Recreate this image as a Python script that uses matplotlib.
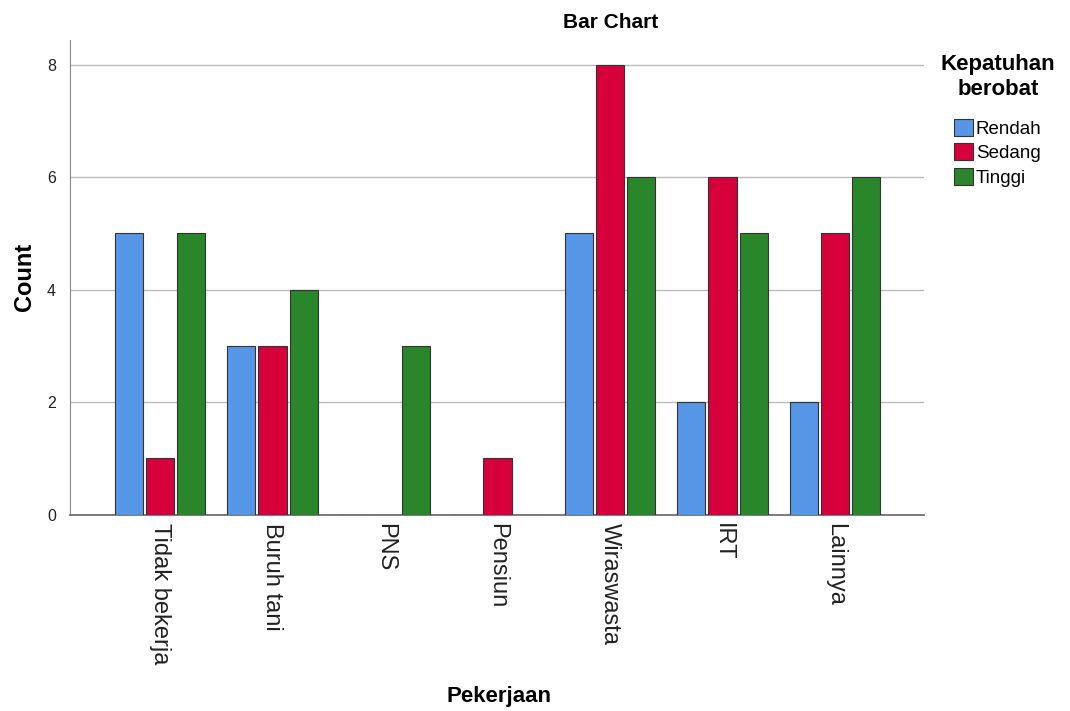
import matplotlib
matplotlib.use("Agg")
import matplotlib.pyplot as plt
import numpy as np

plt.rcParams['font.family'] = ['Liberation Sans', 'DejaVu Sans']

categories = ['Tidak bekerja', 'Buruh tani', 'PNS', 'Pensiun', 'Wiraswasta', 'IRT', 'Lainnya']
rendah = [5, 3, 0, 0, 5, 2, 2]
sedang = [1, 3, 0, 1, 8, 6, 5]
tinggi = [5, 4, 3, 0, 6, 5, 6]
series = ['Rendah', 'Sedang', 'Tinggi']
colors = ['#5596E6', '#D6003B', '#2A862A']

fig = plt.figure(figsize=(10.7, 7.11), dpi=100)
ax = fig.add_axes([0.0654, 0.276, 0.798, 0.668])

x = np.arange(len(categories))
step = 0.277
width = 0.25
for i, (vals, name, c) in enumerate(zip([rendah, sedang, tinggi], series, colors)):
    ax.bar(x + (i - 1) * step, vals, width, color=c, edgecolor='#333333',
           linewidth=0.8, label=name, zorder=3)

ax.set_xlim(-0.8, 6.79)
ax.set_ylim(0, 8.44)
ax.set_yticks([0, 2, 4, 6, 8])
ax.yaxis.grid(True, color='#BBBBBB', linewidth=1, zorder=0)
ax.set_xticks(x)
ax.set_xticklabels(categories, rotation=-90, fontsize=17, color='#222222')
ax.tick_params(axis='x', length=0, pad=6)
ax.tick_params(axis='y', length=0, labelsize=11.5, pad=10, colors='#222222')
for s in ['top', 'right']:
    ax.spines[s].set_visible(False)
ax.spines['left'].set_color('#888888')
ax.spines['bottom'].set_color('#666666')
ax.spines['bottom'].set_linewidth(1.2)

ax.set_ylabel('Count', fontsize=17, fontweight='bold', labelpad=8)
fig.text(0.466, 0.013, 'Pekerjaan', fontsize=16, fontweight='bold', ha='center')
fig.text(0.571, 0.96, 'Bar Chart', fontsize=15, fontweight='bold', ha='center')

leg = ax.legend(loc='upper left', bbox_to_anchor=(1.0, 1.005), frameon=False,
                title='Kepatuhan\nberobat', fontsize=13.5, handlelength=1.0,
                handleheight=1.0, handletextpad=0.15, labelspacing=0.3)
leg.get_title().set_fontweight('bold')
leg.get_title().set_fontsize(16)
leg.get_title().set_ha('center')
leg._legend_box.align = 'center'
leg._legend_box.sep = 14

fig.savefig('out.png', dpi=100)
